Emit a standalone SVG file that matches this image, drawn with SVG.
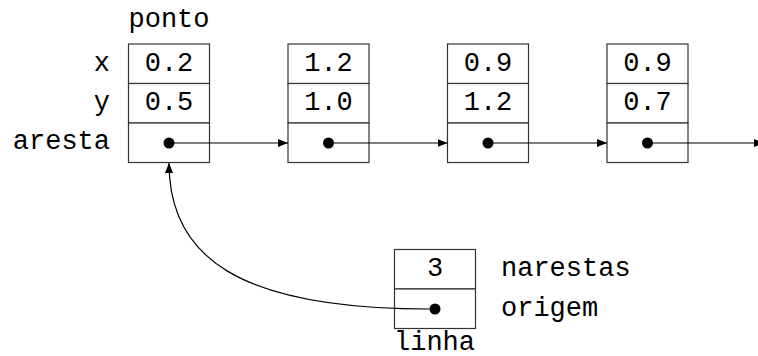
<svg xmlns="http://www.w3.org/2000/svg" width="758" height="356" viewBox="0 0 758 356">
  <style>
    .cell { fill: #fff; stroke: #333; stroke-width: 1.2; }
    .t { font-family: "Liberation Mono", "DejaVu Sans Mono", monospace; font-size: 27px; fill: #000; }
    .mid { text-anchor: middle; }
    .end { text-anchor: end; }
    .dot { fill: #000; }
    .link { fill: none; stroke: #000; stroke-width: 1.2; }
  </style>
  <defs>
    <marker id="arrow" viewBox="0 0 10 8" refX="10" refY="4" markerWidth="10" markerHeight="8" markerUnits="userSpaceOnUse" orient="auto">
      <path d="M0,0 L10,4 L0,8 z" fill="#000"/>
    </marker>
  </defs>

  <rect width="758" height="356" fill="#fff"/>

  <!-- field labels for the point list -->
  <g id="labels">
    <text class="t mid" x="169" y="27">ponto</text>
    <text class="t end" x="110" y="71">x</text>
    <text class="t end" x="110" y="110">y</text>
    <text class="t end" x="110" y="149">aresta</text>
  </g>

  <g id="ponto1">
    <rect class="cell" x="128.5" y="44" width="81" height="39.5"/>
    <rect class="cell" x="128.5" y="83.5" width="81" height="39.5"/>
    <rect class="cell" x="128.5" y="123" width="81" height="39.5"/>
    <text class="t mid" x="169" y="71">0.2</text>
    <text class="t mid" x="169" y="110">0.5</text>
    <circle class="dot" cx="169" cy="143" r="5.5"/>
  </g>

  <g id="ponto2">
    <rect class="cell" x="288" y="44" width="81" height="39.5"/>
    <rect class="cell" x="288" y="83.5" width="81" height="39.5"/>
    <rect class="cell" x="288" y="123" width="81" height="39.5"/>
    <text class="t mid" x="328.5" y="71">1.2</text>
    <text class="t mid" x="328.5" y="110">1.0</text>
    <circle class="dot" cx="328.5" cy="143" r="5.5"/>
  </g>

  <g id="ponto3">
    <rect class="cell" x="447.5" y="44" width="81" height="39.5"/>
    <rect class="cell" x="447.5" y="83.5" width="81" height="39.5"/>
    <rect class="cell" x="447.5" y="123" width="81" height="39.5"/>
    <text class="t mid" x="488" y="71">0.9</text>
    <text class="t mid" x="488" y="110">1.2</text>
    <circle class="dot" cx="488" cy="143" r="5.5"/>
  </g>

  <g id="ponto4">
    <rect class="cell" x="607" y="44" width="81" height="39.5"/>
    <rect class="cell" x="607" y="83.5" width="81" height="39.5"/>
    <rect class="cell" x="607" y="123" width="81" height="39.5"/>
    <text class="t mid" x="647.5" y="71">0.9</text>
    <text class="t mid" x="647.5" y="110">0.7</text>
    <circle class="dot" cx="647.5" cy="143" r="5.5"/>
  </g>

  <g id="linha">
    <rect class="cell" x="394.5" y="249.5" width="81" height="39.5"/>
    <rect class="cell" x="394.5" y="289" width="81" height="39.5"/>
    <text class="t mid" x="435" y="276">3</text>
    <circle class="dot" cx="435" cy="309" r="5.5"/>
    <text class="t" x="501" y="276">narestas</text>
    <text class="t" x="501" y="316">origem</text>
    <text class="t" x="394" y="350">linha</text>
  </g>

  <g id="connectors">
    <line class="link" x1="169" y1="143" x2="288" y2="143" marker-end="url(#arrow)"/>
    <line class="link" x1="328.5" y1="143" x2="447.5" y2="143" marker-end="url(#arrow)"/>
    <line class="link" x1="488" y1="143" x2="607" y2="143" marker-end="url(#arrow)"/>
    <line class="link" x1="647.5" y1="143" x2="764" y2="143" marker-end="url(#arrow)"/>
    <path class="link" d="M435,309 C235,310 169,255 169,163" marker-end="url(#arrow)"/>
  </g>
</svg>
